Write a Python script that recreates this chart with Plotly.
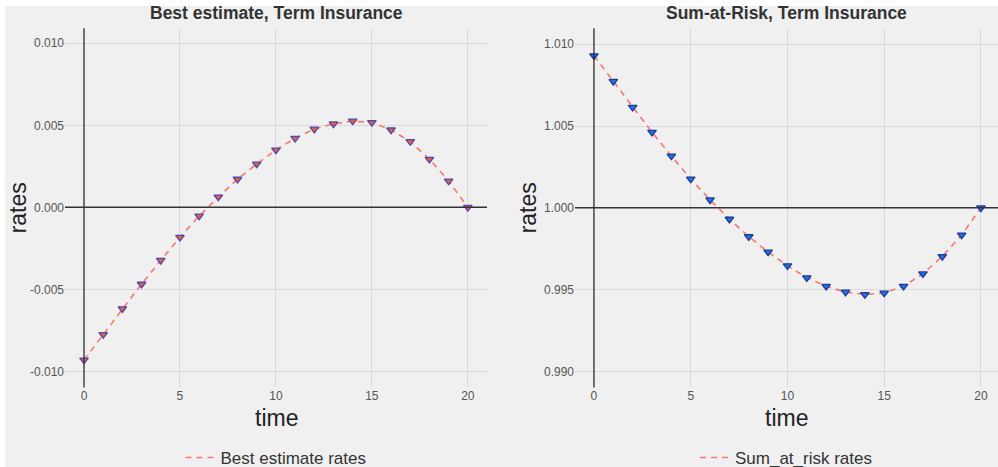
import plotly.graph_objects as go

time = list(range(21))
best_estimate = [-0.0093, -0.00775, -0.00618, -0.00468, -0.00323, -0.00182, -0.00053,
                 0.00063, 0.00172, 0.00264, 0.0035, 0.00421, 0.00477, 0.00509, 0.00526,
                 0.00517, 0.00472, 0.00401, 0.00293, 0.00161, 0.0]
sum_at_risk = [1.0093, 1.00773, 1.00615, 1.00462, 1.00317, 1.00176, 1.00049,
               0.99931, 0.99824, 0.9973, 0.99646, 0.99573, 0.99521, 0.99485, 0.9947,
               0.9948, 0.99521, 0.99597, 0.99703, 0.99834, 1.0]
titles = ["Best estimate, Term Insurance", "Sum-at-Risk, Term Insurance"]
legend_names = ["Best estimate rates", "Sum_at_risk rates"]
x_ticks = [0, 5, 10, 15, 20]
left_yticks = [-0.010, -0.005, 0.000, 0.005, 0.010]
left_yticklabels = ["-0.010", "-0.005", "0.000", "0.005", "0.010"]
right_yticks = [0.990, 0.995, 1.000, 1.005, 1.010]
right_yticklabels = ["0.990", "0.995", "1.000", "1.005", "1.010"]

W, H = 998, 467
BG = "#F0F0F0"
GRID = "#D9D9D9"
FONT = "Liberation Sans, Arial, sans-serif"
TICKC = "#555555"

def px_x(p):
    return p / W

def px_y(p):
    return 1 - p / H

fig = go.Figure()

# left panel
fig.add_trace(go.Scatter(x=time, y=best_estimate, mode="lines", name=legend_names[0],
                         line=dict(color="#F8766D", width=1.6, dash="6px,5px"),
                         xaxis="x", yaxis="y", legend="legend"))
fig.add_trace(go.Scatter(x=time, y=best_estimate, mode="markers", showlegend=False,
                         marker=dict(symbol="triangle-down", size=7.5, color="#E8622E",
                                     line=dict(color="#4F46B8", width=1.3)),
                         xaxis="x", yaxis="y"))
# right panel
fig.add_trace(go.Scatter(x=time, y=sum_at_risk, mode="lines", name=legend_names[1],
                         line=dict(color="#F8766D", width=1.6, dash="6px,5px"),
                         xaxis="x2", yaxis="y2", legend="legend2"))
fig.add_trace(go.Scatter(x=time, y=sum_at_risk, mode="markers", showlegend=False,
                         marker=dict(symbol="triangle-down", size=7.5, color="#1E72EC",
                                     line=dict(color="#1F3A92", width=1.3)),
                         xaxis="x2", yaxis="y2"))

ydom = [px_y(385), px_y(28)]
axis_common = dict(showgrid=True, gridcolor=GRID, gridwidth=1, zeroline=False,
                   showline=False, ticks="", tickfont=dict(family=FONT, size=12, color=TICKC))

fig.update_layout(
    width=W, height=476,
    autosize=False,
    margin=dict(l=0, r=0, t=0, b=0),
    paper_bgcolor="white",
    plot_bgcolor=BG,
    font=dict(family=FONT),
    xaxis=dict(domain=[px_x(65), px_x(487)], range=[-0.99, 21.0], tickvals=x_ticks,
               anchor="y", **axis_common),
    yaxis=dict(domain=ydom, range=[-0.01098, 0.01092], tickvals=left_yticks,
               ticktext=left_yticklabels, anchor="x", **axis_common),
    xaxis2=dict(domain=[px_x(575), 1.0], range=[-0.98, 20.88], tickvals=x_ticks,
                anchor="y2", **axis_common),
    yaxis2=dict(domain=ydom, range=[0.98902, 1.01098], tickvals=right_yticks,
                ticktext=right_yticklabels, anchor="x2", **axis_common),
    legend=dict(x=px_x(276), y=px_y(455), xanchor="center", yanchor="middle",
                orientation="h", bgcolor="rgba(0,0,0,0)",
                font=dict(family=FONT, size=17, color="#333333"), itemwidth=30),
    legend2=dict(x=px_x(786), y=px_y(455), xanchor="center", yanchor="middle",
                 orientation="h", bgcolor="rgba(0,0,0,0)",
                 font=dict(family=FONT, size=17, color="#333333"), itemwidth=30),
)

shapes = [
    dict(type="rect", xref="paper", yref="paper", x0=px_x(5), x1=1.0, y0=px_y(464), y1=px_y(6),
         fillcolor=BG, line=dict(width=0), layer="below"),
    dict(type="line", xref="x", yref="paper", x0=0, x1=0, y0=ydom[0], y1=ydom[1],
         line=dict(color="#222222", width=1.2)),
    dict(type="line", xref="paper", yref="y", x0=px_x(65), x1=px_x(487), y0=0, y1=0,
         line=dict(color="#333333", width=1.5)),
    dict(type="line", xref="x2", yref="paper", x0=0, x1=0, y0=ydom[0], y1=ydom[1],
         line=dict(color="#222222", width=1.2)),
    dict(type="line", xref="paper", yref="y2", x0=px_x(575), x1=1.0, y0=1.0, y1=1.0,
         line=dict(color="#333333", width=1.5)),
]
fig.update_layout(shapes=shapes)

annotations = []
for cx, t in zip([276, 786], titles):
    annotations.append(dict(text="<b>%s</b>" % t, x=px_x(cx), y=px_y(13), xref="paper", yref="paper",
                            xanchor="center", yanchor="middle", showarrow=False,
                            font=dict(family=FONT, size=17.5, color="#333333")))
    annotations.append(dict(text="time", x=px_x(cx), y=px_y(415), xref="paper", yref="paper",
                            xanchor="center", yanchor="middle", showarrow=False,
                            font=dict(family=FONT, size=23, color="#222222")))
for rx in [18, 528]:
    annotations.append(dict(text="rates", x=px_x(rx), y=px_y(207), xref="paper", yref="paper",
                            xanchor="center", yanchor="middle", showarrow=False, textangle=-90,
                            font=dict(family=FONT, size=23, color="#222222")))
fig.update_layout(annotations=annotations)

fig.write_html("out.html",
               config={"displayModeBar": False, "responsive": False},
               post_script="document.body.style.margin='0';document.body.style.padding='0';document.body.style.overflow='hidden';")
